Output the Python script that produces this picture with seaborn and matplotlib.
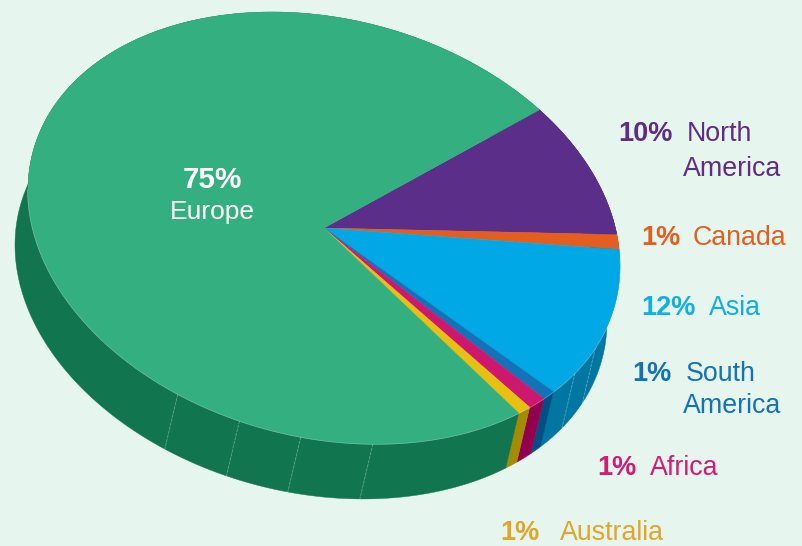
# Pie chart with a slanted 3D look: share of each region, drawn with fill() on a pixel-sized axes
import numpy as np
import seaborn as sns
import matplotlib.pyplot as plt

# Data
regions = ["North\nAmerica", "Canada", "Asia", "South\nAmerica", "Africa", "Australia", "Europe"]
labels_pct = ["10%", "1%", "12%", "1%", "1%", "1%", "75%"]
slice_shares = [9.7, 1.1, 12.1, 0.8, 1.1, 0.8, 74.4]   # measured sweep of each slice, in % of the circle

top_colors = ["#5B2E8A", "#E55E1F", "#00A8E6", "#1273B8", "#CE1870", "#E8C010", "#34B080"]
side_colors = ["#45206B", "#B0460F", "#0076A3", "#004F87", "#92004E", "#A38C00", "#11754F"]
text_colors = ["#5F2C86", "#E55E1F", "#0FAEE8", "#1273B8", "#D11C72", "#DFA628"]

# Positions of the outside labels: pct x, name x, baseline y, second line x, second line y
label_pos = [
    (618, 687, 141, 683, 176),
    (641, 693, 245, None, None),
    (641, 709, 315, None, None),
    (632, 686, 381, 683, 413),
    (597, 650, 475, None, None),
    (500, 560, 540, None, None),
]

# Ellipse of the pie top and the offset of the rim (pixels)
cx, cy = 324, 228
rx, shear, ry = 296, 38, 212.6
dx, dy = -13, 55
start_deg = -43.3
seam_deg = [23.5, 32, 80.5, 94.5, 106.6, 119.6]  # faint seams on the rim


def rim(deg):
    t = np.radians(deg)
    return cx + rx * np.cos(t), cy + shear * np.cos(t) + ry * np.sin(t)


sns.set_theme(style="white")
plt.rcParams["font.family"] = ["Liberation Sans", "DejaVu Sans"]

fig = plt.figure(figsize=(8.02, 5.46), dpi=100, facecolor="#E6F5EE")
ax = fig.add_axes([0, 0, 1, 1])
ax.set_xlim(0, 802)
ax.set_ylim(546, 0)
ax.axis("off")

edges = start_deg + np.concatenate([[0], np.cumsum(slice_shares)]) * 3.6

# rim first, so the top covers whatever is behind it
for i in range(len(slice_shares)):
    a = np.linspace(edges[i], edges[i + 1], 400)
    x, y = rim(a)
    ax.fill(np.r_[x, x[::-1] + dx], np.r_[y, y[::-1] + dy], color=side_colors[i], lw=0.3, zorder=2)

for s in seam_deg:
    x, y = rim(s)
    ax.plot([x, x + dx], [y, y + dy], color="white", alpha=0.35, lw=0.6, ls=(0, (4, 1)), zorder=3)

# lighter line where the rim meets the top
a = np.linspace(-5, 180, 500)
x, y = rim(a)
ax.plot(x, y, color="white", alpha=0.5, lw=1.0, zorder=3)

for i in range(len(slice_shares)):
    a = np.linspace(edges[i], edges[i + 1], 400)
    x, y = rim(a)
    ax.fill(np.r_[cx, x], np.r_[cy, y], color=top_colors[i], lw=0.3, zorder=4)

# labels
for i, pos in enumerate(label_pos):
    xp, xn, base, x2, y2 = pos
    lines = regions[i].split("\n")
    ax.text(xp, base, labels_pct[i], color=text_colors[i], fontsize=19.5, fontweight="bold", va="baseline", zorder=5)
    ax.text(xn, base, lines[0], color=text_colors[i], fontsize=19.3, va="baseline", zorder=5)
    if x2 is not None:
        ax.text(x2, y2, lines[1], color=text_colors[i], fontsize=19.3, va="baseline", zorder=5)

ax.text(212, 188, labels_pct[6], color="white", fontsize=21.3, fontweight="bold", ha="center", va="baseline", zorder=5)
ax.text(212, 219, regions[6], color="white", fontsize=19, ha="center", va="baseline", zorder=5)

fig.savefig("out.png", dpi=100, facecolor=fig.get_facecolor())
